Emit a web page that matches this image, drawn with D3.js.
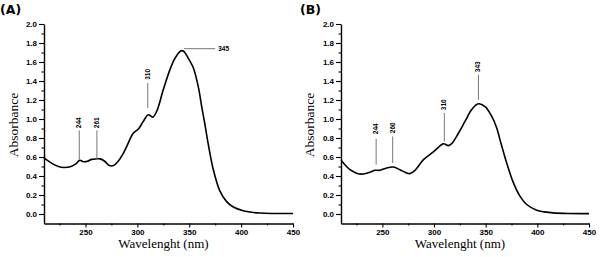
<!DOCTYPE html>
<html>
<head>
<meta charset="utf-8">
<script src="https://cdn.jsdelivr.net/npm/d3@7"></script>
<style>
  body { margin: 0; background: #fff; }
  svg { display: block; }
  .tick text { font-family: "Liberation Sans", Arial, sans-serif; font-weight: bold; font-size: 8px; }
</style>
</head>
<body>
<svg id="chart" width="600" height="257"></svg>
<script>
// panel A spectrum
var waveA = [210, 218, 224, 229, 236, 241, 244.5, 248, 252, 256, 260, 264, 268.5, 273, 277, 281.5, 286, 289.7, 296, 301, 305.7, 310.5, 314.8, 318.6, 325, 331.4, 336.3, 341, 343, 345, 349, 353.9, 358.7, 362, 365, 368.4, 373.2, 379.6, 386, 392.5, 402, 410, 418, 430, 450];
var absA  = [0.59, 0.53, 0.50, 0.49, 0.50, 0.53, 0.565, 0.55, 0.555, 0.575, 0.58, 0.58, 0.555, 0.51, 0.51, 0.555, 0.63, 0.71, 0.85, 0.895, 0.975, 1.045, 1.02, 1.08, 1.31, 1.52, 1.64, 1.71, 1.72, 1.71, 1.64, 1.54, 1.34, 1.13, 0.95, 0.73, 0.466, 0.24, 0.13, 0.074, 0.035, 0.018, 0.01, 0.006, 0.005];

// panel B spectrum
var waveB = [210, 218.7, 225, 230, 238, 243, 247.7, 254.2, 260.6, 267, 271.9, 276.7, 281.6, 289.6, 297.7, 302.6, 309, 313.9, 317.1, 323.6, 330, 336.5, 342.9, 349.4, 355.8, 360.7, 363.9, 370.4, 376.8, 383.3, 389.7, 399.4, 407, 415.5, 430, 450];
var absB  = [0.565, 0.466, 0.43, 0.42, 0.44, 0.46, 0.46, 0.485, 0.495, 0.466, 0.44, 0.425, 0.46, 0.57, 0.64, 0.685, 0.74, 0.72, 0.74, 0.85, 0.975, 1.10, 1.16, 1.13, 1.03, 0.905, 0.78, 0.535, 0.33, 0.185, 0.10, 0.04, 0.022, 0.012, 0.006, 0.004];

// peak markers: wavelength, line from/to (absorbance), label centre
var peaksA = [244, 261, 310];
var peakFromA = [0.57, 0.57, 1.115];
var peakToA = [0.88, 0.88, 1.38];
var peakLabA = [0.96, 0.96, 1.47];
// the 345 marker of A runs sideways
var sidePeakA = 345, sideAbsA = 1.74, sideEndA = 375;

var peaksB = [244, 260, 310, 343];
var peakFromB = [0.52, 0.537, 0.764, 1.203];
var peakToB = [0.79, 0.817, 1.063, 1.466];
var peakLabB = [0.897, 0.908, 1.15, 1.55];

var xTicks = [250, 300, 350, 400, 450];
var xMinor = [225, 275, 325, 375, 425];
var yTicks = [0, 0.2, 0.4, 0.6, 0.8, 1.0, 1.2, 1.4, 1.6, 1.8, 2.0];
var yMinor = [0.1, 0.3, 0.5, 0.7, 0.9, 1.1, 1.3, 1.5, 1.7, 1.9];

var chart = d3.select("#chart");

function draw_panel(title, left, right, titleX, ylabX, wave, absv, peaks, pFrom, pTo, pLab){
    var xScale = d3.scaleLinear().domain([210, 450]).range([left, right]);
    var yScale = d3.scaleLinear().domain([-0.1, 2.0]).range([223.5, 24]);
    var g = chart.append("g");

    // minor ticks first, then the real axes on top
    g.append("g")
        .attr("transform", "translate(0,223.5)")
        .call(d3.axisBottom(xScale).tickValues(xMinor).tickSize(2).tickFormat(""))
        .select(".domain").remove();
    g.append("g")
        .attr("transform", "translate(" + left + ",0)")
        .call(d3.axisLeft(yScale).tickValues(yMinor).tickSize(2.5).tickFormat(""))
        .select(".domain").remove();

    var xAxis = g.append("g")
        .attr("transform", "translate(0,223.5)")
        .call(d3.axisBottom(xScale).tickValues(xTicks).tickSize(4).tickSizeOuter(0).tickPadding(2));
    var yAxis = g.append("g")
        .attr("transform", "translate(" + left + ",0)")
        .call(d3.axisLeft(yScale).tickValues(yTicks).tickSize(5).tickSizeOuter(0).tickPadding(2)
              .tickFormat(d3.format(".1f")));
    g.selectAll(".domain").attr("stroke-width", 1.4);
    g.selectAll(".tick line").attr("stroke-width", 1.1);
    yAxis.selectAll(".tick text").attr("dy", "0.34em");

    var line = d3.line()
        .x(function(d, i){ return xScale(wave[i]); })
        .y(function(d){ return yScale(d); })
        .curve(d3.curveCatmullRom.alpha(0.5));
    g.append("path")
        .attr("d", line(absv))
        .attr("fill", "none")
        .attr("stroke", "#000")
        .attr("stroke-width", 1.6);

    peaks.forEach(function(p, i){
        g.append("line")
            .attr("x1", xScale(p)).attr("x2", xScale(p))
            .attr("y1", yScale(pFrom[i])).attr("y2", yScale(pTo[i]))
            .attr("stroke", "#777").attr("stroke-width", 1);
        var lx = xScale(p) + 2, ly = yScale(pLab[i]);
        g.append("text")
            .attr("transform", "translate(" + lx + "," + ly + ") rotate(-90)")
            .attr("text-anchor", "middle")
            .style("font-family", "Liberation Sans, Arial, sans-serif")
            .style("font-weight", "bold")
            .style("font-size", "6.5px")
            .text(p);
    });

    g.append("text")
        .text(title)
        .attr("x", titleX).attr("y", 14)
        .style("font-family", "DejaVu Sans, sans-serif")
        .style("font-weight", "bold")
        .style("font-size", "12.5px");

    g.append("text")
        .text("Wavelenght (nm)")
        .attr("x", (left + right) / 2 - 5)
        .attr("y", 248)
        .attr("text-anchor", "middle")
        .style("font-family", "Liberation Serif, Times New Roman, serif")
        .style("font-size", "13px");

    g.append("text")
        .attr("transform", "translate(" + ylabX + ",125) rotate(-90)")
        .attr("text-anchor", "middle")
        .style("font-family", "Liberation Serif, Times New Roman, serif")
        .style("font-size", "13.5px")
        .text("Absorbance");

    return {x: xScale, y: yScale, g: g};
}

var pa = draw_panel("(A)", 44, 293, 0, 18, waveA, absA, peaksA, peakFromA, peakToA, peakLabA);
draw_panel("(B)", 341, 589, 300, 314, waveB, absB, peaksB, peakFromB, peakToB, peakLabB);

// sideways marker on A
pa.g.append("line")
    .attr("x1", pa.x(sidePeakA)).attr("x2", pa.x(sideEndA))
    .attr("y1", pa.y(sideAbsA)).attr("y2", pa.y(sideAbsA))
    .attr("stroke", "#777").attr("stroke-width", 1);
pa.g.append("text")
    .text(sidePeakA)
    .attr("x", pa.x(sideEndA) + 3)
    .attr("y", pa.y(sideAbsA) + 2.3)
    .style("font-family", "Liberation Sans, Arial, sans-serif")
    .style("font-weight", "bold")
    .style("font-size", "6.5px");
</script>
</body>
</html>
